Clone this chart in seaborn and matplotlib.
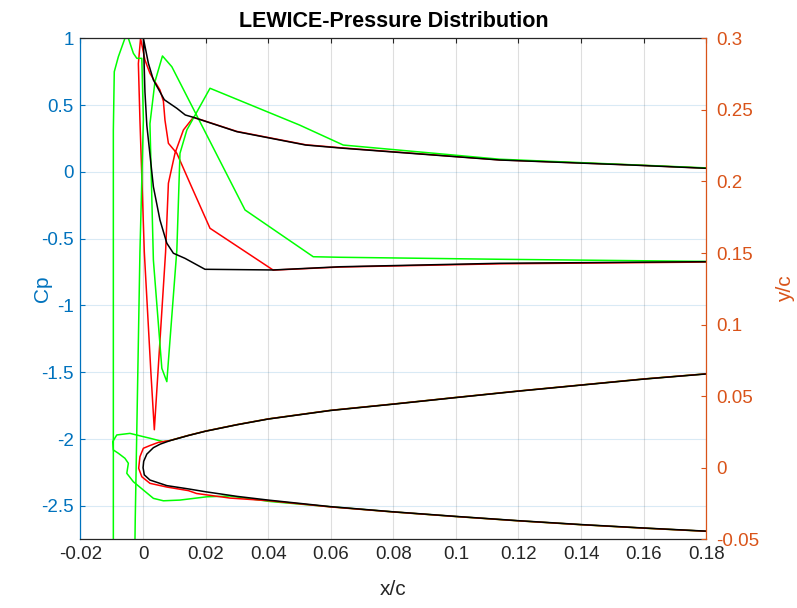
import matplotlib
matplotlib.use("Agg")
import matplotlib.pyplot as plt
import matplotlib.ticker as ticker
import seaborn as sns

# ---------------- pressure coefficient (left axis) ----------------
# clean airfoil: upper branch -> stagnation -> lower branch
cp_clean_x = [0.18, 0.1565, 0.114, 0.064, 0.052, 0.030, 0.016, 0.0135, 0.0108, 0.0068,
              0.0033, 0.0017, 0.0001, 0.0006, 0.0012, 0.0033, 0.0054, 0.0076, 0.0097,
              0.0134, 0.0198, 0.0416, 0.0629, 0.114, 0.18]
cp_clean = [0.027, 0.051, 0.089, 0.177, 0.201, 0.301, 0.409, 0.426, 0.476, 0.54,
            0.688, 0.813, 1.0, 0.6, 0.35, -0.111, -0.36, -0.534, -0.609,
            -0.647, -0.729, -0.734, -0.710, -0.684, -0.672]

# ice shape 1 (red)
cp_ice1_x = [0.18, 0.114, 0.063, 0.0416, 0.0214, 0.015, 0.0108, 0.0081, 0.007, 0.0065,
             0.0054, 0.0022, 0.0006, -0.0008, -0.0015, -0.001, 0.0004, 0.0025, 0.0036,
             0.0072, 0.0081, 0.0102, 0.0129, 0.0161, 0.030, 0.052, 0.064, 0.114,
             0.1565, 0.18]
cp_ice1 = [-0.675, -0.688, -0.712, -0.735, -0.422, -0.085, 0.139, 0.214, 0.388, 0.53,
           0.613, 0.738, 0.838, 1.0, 0.81, 0.39, -0.6, -1.5, -1.93,
           -0.6, -0.085, 0.139, 0.314, 0.409, 0.303, 0.203, 0.179, 0.09,
           0.052, 0.028]

# ice shape 2 (green), main branch
cp_ice2_x = [0.18, 0.114, 0.063, 0.0544, 0.0326, 0.0092, 0.0062, 0.0038, 0.0022, 0.0033,
             0.006, 0.0076, 0.0108, 0.0118, 0.014, 0.0214, 0.050, 0.064, 0.114, 0.18]
cp_ice2 = [-0.670, -0.654, -0.639, -0.635, -0.285, 0.787, 0.868, 0.675, 0.36, -0.66,
           -1.47, -1.57, -0.585, 0.139, 0.314, 0.626, 0.351, 0.201, 0.095, 0.03]

# ice shape 2 (green), horn branch
cp_horn_x = [-0.0095, -0.0095, -0.0092, -0.0079, -0.0058, -0.0047, -0.0031, -0.002,
             -0.0004, 0.0001, -0.001, -0.0025, -0.003]
cp_horn = [-3.5, 0.31, 0.75, 0.862, 1.0, 1.0, 0.888, 0.85,
           0.85, 0.39, -0.6, -2.6, -3.5]

# ---------------- geometry (right axis) ----------------
geo_clean_x = [0.18, 0.16, 0.14, 0.12, 0.10, 0.08, 0.06, 0.04, 0.03, 0.02, 0.0145, 0.0086,
               0.0055, 0.0033, 0.0012, 0.0002, 0.0, 0.0004, 0.0022, 0.0076, 0.0145, 0.02,
               0.03, 0.04, 0.06, 0.08, 0.10, 0.12, 0.14, 0.16, 0.18]
geo_clean = [0.0655, 0.0619, 0.0577, 0.0535, 0.0490, 0.0444, 0.0400, 0.0340, 0.0300, 0.0255,
             0.0225, 0.0189, 0.0165, 0.0140, 0.0095, 0.0045, 0.0, -0.0050, -0.0086, -0.0125,
             -0.0148, -0.0168, -0.0200, -0.0226, -0.0272, -0.0308, -0.0340, -0.0370, -0.0397,
             -0.0421, -0.0443]

geo_ice1_x = [0.18, 0.16, 0.14, 0.12, 0.10, 0.08, 0.06, 0.04, 0.03, 0.02, 0.0145, 0.0086,
              0.0049, 0.0022, 0.0001, -0.001, -0.0014, -0.0004, 0.0022, 0.0076, 0.0145,
              0.0171, 0.0278, 0.04, 0.06, 0.08, 0.10, 0.12, 0.14, 0.16, 0.18]
geo_ice1 = [0.0656, 0.0620, 0.0578, 0.0536, 0.0491, 0.0445, 0.0401, 0.0341, 0.0301, 0.0256,
            0.0226, 0.0190, 0.0177, 0.0155, 0.0136, 0.0077, -0.0004, -0.0063, -0.0109,
            -0.0135, -0.0160, -0.0180, -0.0212, -0.0230, -0.0274, -0.0309, -0.0341, -0.0371,
            -0.0398, -0.0422, -0.0444]

geo_ice2_x = [0.18, 0.16, 0.14, 0.12, 0.10, 0.08, 0.06, 0.04, 0.03, 0.02, 0.0145, 0.0086,
              0.0065, 0.0022, 0.0001, -0.0042, -0.0084, -0.0097, -0.0095, -0.0079, -0.0058,
              -0.0047, -0.0052, -0.0031, 0.0001, 0.0033, 0.0065, 0.0118, 0.0204, 0.0278,
              0.0406, 0.06, 0.08, 0.10, 0.12, 0.14, 0.16, 0.18]
geo_ice2 = [0.0656, 0.0620, 0.0578, 0.0536, 0.0491, 0.0445, 0.0401, 0.0341, 0.0301, 0.0256,
            0.0226, 0.0190, 0.0182, 0.0206, 0.0217, 0.0240, 0.0229, 0.0182, 0.0124, 0.0101,
            0.0066, 0.0031, -0.0039, -0.0098, -0.0156, -0.0214, -0.0231, -0.0226, -0.0203,
            -0.0198, -0.0236, -0.0273, -0.0309, -0.0341, -0.0371, -0.0398, -0.0422, -0.0444]

x_ticks = [-0.02, 0, 0.02, 0.04, 0.06, 0.08, 0.1, 0.12, 0.14, 0.16, 0.18]
cp_ticks = [-2.5, -2, -1.5, -1, -0.5, 0, 0.5, 1]
yc_ticks = [-0.05, 0, 0.05, 0.1, 0.15, 0.2, 0.25, 0.3]

BLUE = "#0072BD"
ORANGE = "#D95319"
DARK = "#262626"

sns.set_theme(style="white")
plt.rcParams['font.family'] = ['Liberation Sans', 'DejaVu Sans']
plt.rcParams['axes.unicode_minus'] = False

fig = plt.figure(figsize=(7.97, 6.08), dpi=100)
ax = fig.add_axes([0.101, 0.113, 0.785, 0.824])
ax2 = ax.twinx()

lw = 1.1
sns.lineplot(x=cp_ice1_x, y=cp_ice1, sort=False, estimator=None, color="red", lw=lw, ax=ax)
sns.lineplot(x=cp_ice2_x, y=cp_ice2, sort=False, estimator=None, color="#00ff00", lw=lw, ax=ax)
sns.lineplot(x=cp_horn_x, y=cp_horn, sort=False, estimator=None, color="#00ff00", lw=lw, ax=ax)
sns.lineplot(x=cp_clean_x, y=cp_clean, sort=False, estimator=None, color="black", lw=lw, ax=ax)

sns.lineplot(x=geo_ice2_x, y=geo_ice2, sort=False, estimator=None, color="#00ff00", lw=lw, ax=ax2)
sns.lineplot(x=geo_ice1_x, y=geo_ice1, sort=False, estimator=None, color="red", lw=lw, ax=ax2)
sns.lineplot(x=geo_clean_x, y=geo_clean, sort=False, estimator=None, color="black", lw=lw, ax=ax2)

ax.set_xlim(-0.02, 0.18)
ax.set_ylim(-2.75, 1)
ax2.set_ylim(-0.05, 0.3)

fmt = ticker.FuncFormatter(lambda v, p: "%g" % round(v, 4))
ax.xaxis.set_major_locator(ticker.FixedLocator(x_ticks))
ax.yaxis.set_major_locator(ticker.FixedLocator(cp_ticks))
ax2.yaxis.set_major_locator(ticker.FixedLocator(yc_ticks))
ax.xaxis.set_major_formatter(fmt)
ax.yaxis.set_major_formatter(fmt)
ax2.yaxis.set_major_formatter(fmt)

# grid
ax.grid(True, axis="x", color=DARK, alpha=0.15, lw=0.8)
ax.grid(True, axis="y", color=BLUE, alpha=0.15, lw=0.8)
ax.set_axisbelow(True)

# spines
ax.spines["right"].set_visible(False)
ax.spines["left"].set_color(BLUE)
ax.spines["top"].set_color(DARK)
ax.spines["bottom"].set_color(DARK)
for s in ["left", "top", "bottom"]:
    ax2.spines[s].set_visible(False)
ax2.spines["right"].set_color(ORANGE)
for s in ax.spines.values():
    s.set_linewidth(0.9)
ax2.spines["right"].set_linewidth(0.9)

ax.tick_params(axis="x", direction="in", length=3.6, width=0.8, colors=DARK, top=True,
               labelsize=13.5, pad=5)
ax.tick_params(axis="y", direction="in", length=3.6, width=0.8, colors=BLUE,
               labelsize=13.5, pad=5)
ax2.tick_params(axis="y", direction="in", length=3.6, width=0.8, colors=ORANGE,
                labelsize=13.5, pad=7)

ax.set_xlabel("x/c", color=DARK, fontsize=15, labelpad=12)
ax.set_ylabel("Cp", color=BLUE, fontsize=15, labelpad=-8)
ax2.set_ylabel("y/c", color=ORANGE, fontsize=15, labelpad=12)
ax.set_title("LEWICE-Pressure Distribution", fontsize=15.5, fontweight="bold", color="black", pad=8)

fig.savefig("out.png", dpi=100)
